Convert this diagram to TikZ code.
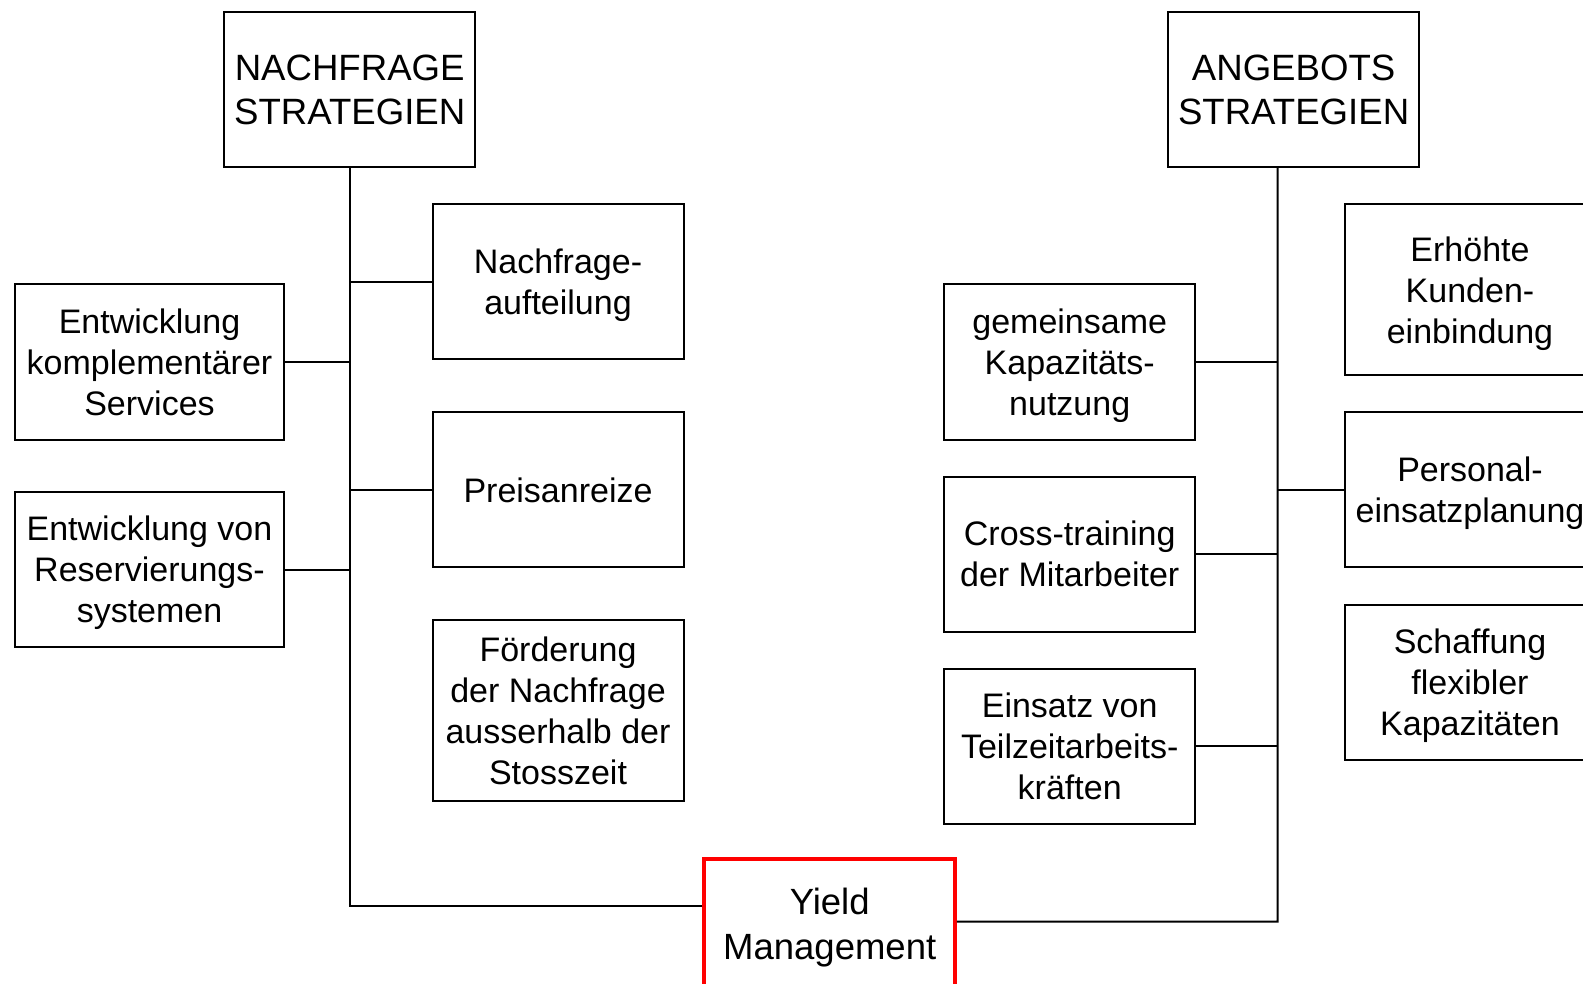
\documentclass[tikz,border=0pt]{standalone}
\usepackage{fontspec}
\setmainfont{Liberation Sans}
\usetikzlibrary{positioning, calc}
\tikzset{
    box/.style={draw, line width=2pt, align=center, inner sep=4pt, text depth=0pt,
        minimum width=251, minimum height=155,
        font=\fontsize{34}{41}\selectfont},
    head/.style={box, font=\fontsize{36.6}{44}\selectfont},
    yieldbox/.style={box, draw=red, line width=3.5pt, minimum height=130,
        font=\fontsize{36.5}{45}\selectfont},
    link/.style={line width=2pt}
}
\begin{document}
\begin{tikzpicture}[x=1pt, y=-1pt]
    \useasboundingbox (0,0) rectangle (1583,984);
    \node[head] (nach) at (349.7,89.5) {NACHFRAGE\\STRATEGIEN};
    \node[head] (angeb) at (1293.6,89.5) {ANGEBOTS\\STRATEGIEN};

    \node[box] (aufteil) at (558,281.7) {Nachfrage-\\aufteilung};
    \node[box] (preis) at (558,489.7) {Preisanreize};
    \node[box, minimum height=181] (foerder) at (558,710.8) {Förderung\\der Nachfrage\\ausserhalb der\\Stosszeit};
    \node[box, minimum width=269] (komp) at (149.5,362) {Entwicklung\\komplementärer\\Services};
    \node[box, minimum width=269] (reserv) at (149.5,569.5) {Entwicklung von\\Reservierungs-\\systemen};

    \node[box] (gemein) at (1069.7,362) {gemeinsame\\Kapazitäts-\\nutzung};
    \node[box] (cross) at (1069.7,554) {Cross-training\\der Mitarbeiter};
    \node[box] (einsatz) at (1069.7,746) {Einsatz von\\Teilzeitarbeits-\\kräften};
    \node[box, minimum height=171] (erhoeht) at (1470,290) {Erhöhte\\Kunden-\\einbindung};
    \node[box] (personal) at (1470,489.7) {Personal-\\einsatzplanung};
    \node[box] (schaff) at (1470,682) {Schaffung\\flexibler\\Kapazitäten};

    \node[yieldbox] (yield) at (829.7,924) {Yield\\Management};

    % Staemme
    \coordinate (lbot) at (349.7,905.7);
    \coordinate (rtop) at ($(angeb.south)+(-15.9,0)$);
    \coordinate (rbot) at (1277.7,921.7);
    \draw[link] (nach.south) -- (lbot) -- (lbot -| yield.west);
    \draw[link] (rtop) -- (rbot) -- (rbot -| yield.east);

    % Aeste links
    \foreach \n in {aufteil, preis}
        \draw[link] (\n.west -| lbot) -- (\n.west);
    \foreach \n in {komp, reserv}
        \draw[link] (\n.east) -- (\n.east -| lbot);
    \draw[link] ($(foerder.west)+(0,3)$) -- ($(foerder.west)+(0,3)$ -| lbot);

    % Aeste rechts
    \foreach \n in {gemein, cross, einsatz}
        \draw[link] (\n.east) -- (\n.east -| rbot);
    \draw[link] (personal.west) -- (personal.west -| rbot);
    \draw[link] ($(erhoeht.west)+(0,-7.7)$) -- ($(erhoeht.west)+(0,-7.7)$ -| rbot);
    \draw[link] ($(schaff.west)+(0,15.7)$) -- ($(schaff.west)+(0,15.7)$ -| rbot);
\end{tikzpicture}
\end{document}
